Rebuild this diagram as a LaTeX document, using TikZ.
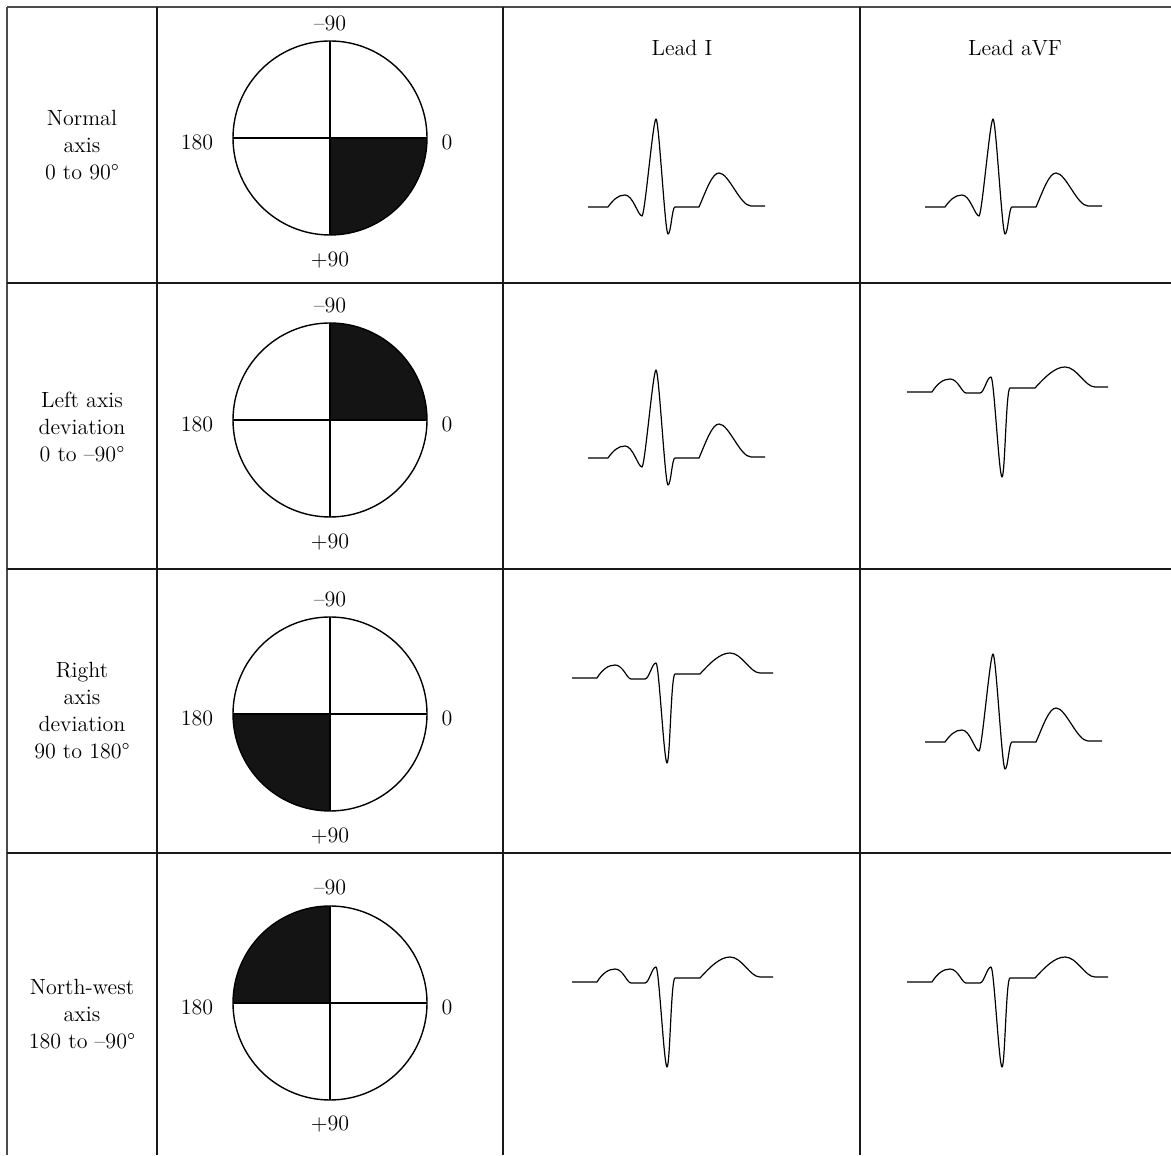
\documentclass[tikz,border=0pt]{standalone}
\usepackage{tikz}
\usetikzlibrary{calc}

\begin{document}
\begin{tikzpicture}[x=0.5pt,y=0.5pt,
  grid/.style={line width=0.9pt,black!90},
  frame/.style={line width=0.9pt,black!70},
  dial/.style={line width=0.7pt,black},
  quad/.style={fill=black!92},
  wave/.style={line width=0.6pt,black,line join=round},
  lbl/.style={font=\fontsize{11}{13.5}\selectfont,inner sep=0pt,align=center},
  upwave/.pic={
    \draw[wave] (0,0) -- (20,0) .. controls (25,7) and (30,12) .. (37,12)
      .. controls (45,12) and (50,-9) .. (54,-9)
      .. controls (57,-8) and (65,88) .. (68,88)
      .. controls (71,88) and (77,-27) .. (80,-27)
      .. controls (83,-27) and (84,0) .. (87,0) -- (111,0)
      .. controls (118,16) and (124,34) .. (131,34)
      .. controls (141,34) and (152,1) .. (163,1) -- (177,1);
  },
  downwave/.pic={
    \draw[wave] (0,0) -- (25,0) .. controls (30,8) and (36,13) .. (43,13)
      .. controls (51,13) and (55,-1) .. (59,-1) -- (73,-1)
      .. controls (77,-1) and (80,15) .. (84,15)
      .. controls (87,15) and (92,-85) .. (95,-85)
      .. controls (98,-85) and (99,4) .. (103,4) -- (128,4)
      .. controls (138,15) and (148,25) .. (158,25)
      .. controls (170,25) and (178,5) .. (188,5) -- (201,5);
  }]
\useasboundingbox (0,0) rectangle (1171,1155);

% table rules
\draw[frame] (7,1148) -- (1171,1148);
\draw[frame] (7,1148) -- (7,0);
\draw[grid] (157,1148) -- (157,0);
\draw[grid] (503,1148) -- (503,0);
\draw[grid] (860,1148) -- (860,0);
\draw[grid] (7,872) -- (1171,872);
\draw[grid] (7,586) -- (1171,586);
\draw[grid] (7,302) -- (1171,302);

% headers
\node[lbl] (leadI) at (682,1107) {Lead I};
\node[lbl] (leadaVF) at (1015,1107) {Lead aVF};

% row labels
\node[lbl] (normal) at (82,1010) {Normal\\axis\\0 to 90\textdegree};
\node[lbl] (lad) at (82,728) {Left axis\\deviation\\0 to --90\textdegree};
\node[lbl] (rad) at (82,444) {Right\\axis\\deviation\\90 to 180\textdegree};
\node[lbl] (nwaxis) at (82,141) {North-west\\axis\\180 to --90\textdegree};

% dial 1: normal
\fill[quad] (330,1017) -- (427,1017) arc[start angle=0,end angle=-90,radius=97] -- cycle;
\draw[dial] (330,1017) circle[radius=97];
\draw[dial] (233,1017) -- (427,1017);
\draw[dial] (330,1114) -- (330,920);
\node[lbl] (d1top) at (330,1132) {--90};
\node[lbl] (d1bot) at (330,895) {+90};
\node[lbl] (d1left) at (197,1013) {180};
\node[lbl] (d1right) at (447,1013) {0};

% dial 2: left axis
\fill[quad] (330,735) -- (427,735) arc[start angle=0,end angle=90,radius=97] -- cycle;
\draw[dial] (330,735) circle[radius=97];
\draw[dial] (233,735) -- (427,735);
\draw[dial] (330,832) -- (330,638);
\node[lbl] (d2top) at (330,850) {--90};
\node[lbl] (d2bot) at (330,613) {+90};
\node[lbl] (d2left) at (197,731) {180};
\node[lbl] (d2right) at (447,731) {0};

% dial 3: right axis
\fill[quad] (330,441) -- (233,441) arc[start angle=180,end angle=270,radius=97] -- cycle;
\draw[dial] (330,441) circle[radius=97];
\draw[dial] (233,441) -- (427,441);
\draw[dial] (330,538) -- (330,344);
\node[lbl] (d3top) at (330,556) {--90};
\node[lbl] (d3bot) at (330,319) {+90};
\node[lbl] (d3left) at (197,437) {180};
\node[lbl] (d3right) at (447,437) {0};

% dial 4: north-west
\fill[quad] (330,152) -- (233,152) arc[start angle=180,end angle=90,radius=97] -- cycle;
\draw[dial] (330,152) circle[radius=97];
\draw[dial] (233,152) -- (427,152);
\draw[dial] (330,249) -- (330,55);
\node[lbl] (d4top) at (330,268) {--90};
\node[lbl] (d4bot) at (330,31) {+90};
\node[lbl] (d4left) at (197,148) {180};
\node[lbl] (d4right) at (447,148) {0};

% ECG complexes
\pic at (588,948) {upwave};
\pic at (925,948) {upwave};
\pic at (588,697) {upwave};
\pic at (907,763) {downwave};
\pic at (572,477) {downwave};
\pic at (925,413) {upwave};
\pic at (572,173) {downwave};
\pic at (907,173) {downwave};
\end{tikzpicture}
\end{document}
